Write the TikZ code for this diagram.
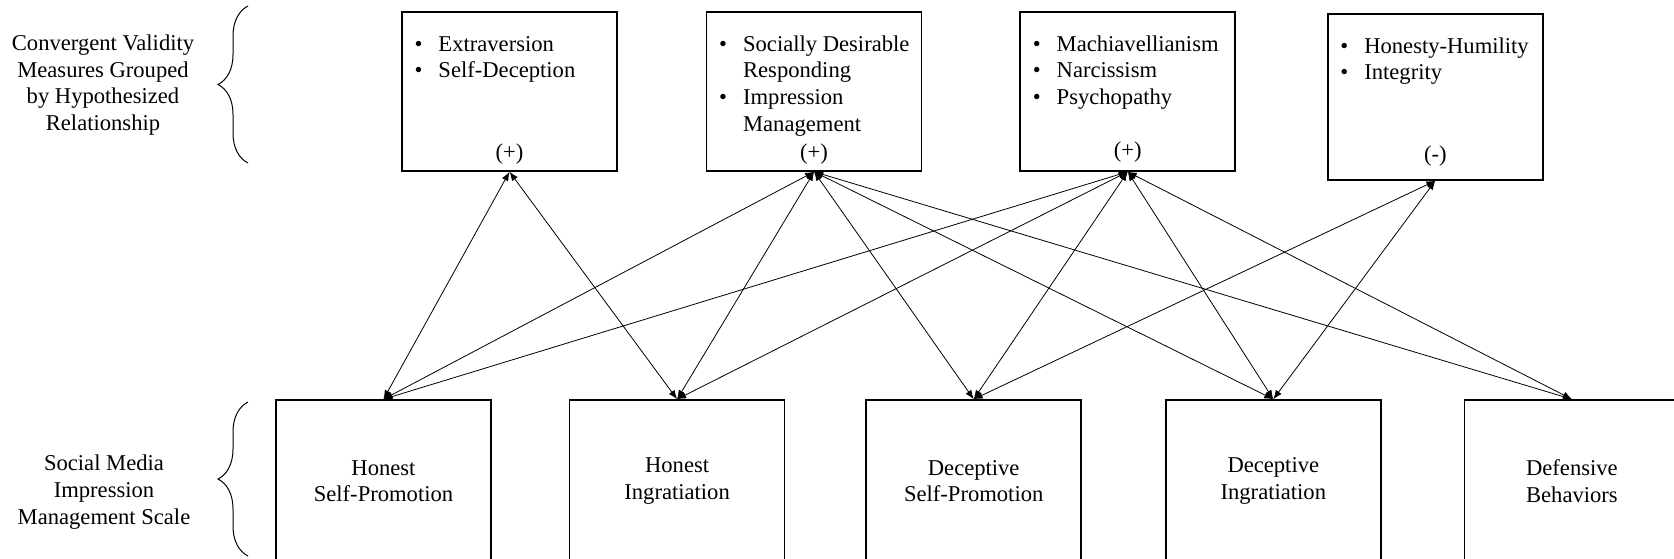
\documentclass[tikz,border=0pt]{standalone}
\usepackage{fontspec}
\setmainfont{Liberation Serif}
\usetikzlibrary{arrows.meta,positioning,decorations.pathreplacing}

\begin{document}
\begin{tikzpicture}[
  x=0.5pt, y=-0.5pt,
  font=\fontsize{11.3}{13.3}\selectfont,
  measure/.style={draw, line width=0.8pt, minimum width=107.5pt, minimum height=79.5pt, inner sep=0pt},
  factor/.style={draw, line width=0.8pt, minimum width=107.5pt, minimum height=81pt, align=center, inner sep=0pt},
  items/.style={anchor=base west, inner sep=0pt},
  sign/.style={anchor=base, inner sep=0pt},
  group/.style={align=center, inner sep=0pt},
  arrow/.style={{Latex[length=4.5pt,width=3.5pt]}-{Latex[length=4.5pt,width=3.5pt]}, line width=0.4pt},
  bracket/.style={decorate, decoration={brace, amplitude=15pt}, line width=0.5pt}
]
\useasboundingbox (0,0) rectangle (1674,558);
\clip (0,0) rectangle (1674,558);

\node[measure] (extra) at (509.5,91.5) {};
\node[measure, right=44pt of extra] (sdr) {};
\node[measure, right=48.5pt of sdr] (dark) {};
\node[measure, right=45.5pt of dark, minimum height=83pt, yshift=-2.75pt] (honesty) {};

\node[items] (extra-list) at ([xshift=6.5pt, yshift=-20pt]extra.north west) {\begin{tabular}[t]{@{}l@{\hspace{8pt}}l@{}}\textbullet & Extraversion\\ \textbullet & Self-Deception\end{tabular}};
\node[items] (sdr-list) at ([xshift=6.5pt, yshift=-20pt]sdr.north west) {\begin{tabular}[t]{@{}l@{\hspace{8pt}}l@{}}\textbullet & Socially Desirable\\ & Responding\\ \textbullet & Impression\\ & Management\end{tabular}};
\node[items] (dark-list) at ([xshift=6.5pt, yshift=-20pt]dark.north west) {\begin{tabular}[t]{@{}l@{\hspace{8pt}}l@{}}\textbullet & Machiavellianism\\ \textbullet & Narcissism\\ \textbullet & Psychopathy\end{tabular}};
\node[items] (honesty-list) at ([xshift=6.5pt, yshift=-20pt]honesty.north west) {\begin{tabular}[t]{@{}l@{\hspace{8pt}}l@{}}\textbullet & Honesty-Humility\\ \textbullet & Integrity\end{tabular}};

\node[sign] (extra-sign) at ([yshift=6pt]extra.south) {(+)};
\node[sign] (sdr-sign) at ([yshift=6pt]sdr.south) {(+)};
\node[sign] (dark-sign) at ([yshift=7pt]dark.south) {(+)};
\node[sign] (honesty-sign) at ([yshift=9.5pt]honesty.south) {(-)};

\node[factor] (hsp) at (383.5,481) {Honest\\Self-Promotion};
\node[factor, right=38.5pt of hsp] (hing) {Honest\\Ingratiation};
\node[factor, right=40pt of hing] (dsp) {Deceptive\\Self-Promotion};
\node[factor, right=41.5pt of dsp] (ding) {Deceptive\\Ingratiation};
\node[factor, right=41pt of ding] (defb) {Defensive\\Behaviors};

\node[group] (convergent) at (103,85) {Convergent Validity\\Measures Grouped\\by Hypothesized\\Relationship};
\node[group] (smims) at (104,492) {Social Media\\Impression\\Management Scale};

\draw[bracket] (248,163) -- (248,6);
\draw[bracket] (248,556) -- (248,402);

\draw[arrow] (extra.south) -- (hsp.north);
\draw[arrow] (extra.south) -- (hing.north);
\draw[arrow] (sdr.south) -- (hsp.north);
\draw[arrow] (sdr.south) -- (hing.north);
\draw[arrow] (sdr.south) -- (dsp.north);
\draw[arrow] (sdr.south) -- (ding.north);
\draw[arrow] (sdr.south) -- (defb.north);
\draw[arrow] (dark.south) -- (hsp.north);
\draw[arrow] (dark.south) -- (hing.north);
\draw[arrow] (dark.south) -- (dsp.north);
\draw[arrow] (dark.south) -- (ding.north);
\draw[arrow] (dark.south) -- (defb.north);
\draw[arrow] (honesty.south) -- (dsp.north);
\draw[arrow] (honesty.south) -- (ding.north);
\end{tikzpicture}
\end{document}
